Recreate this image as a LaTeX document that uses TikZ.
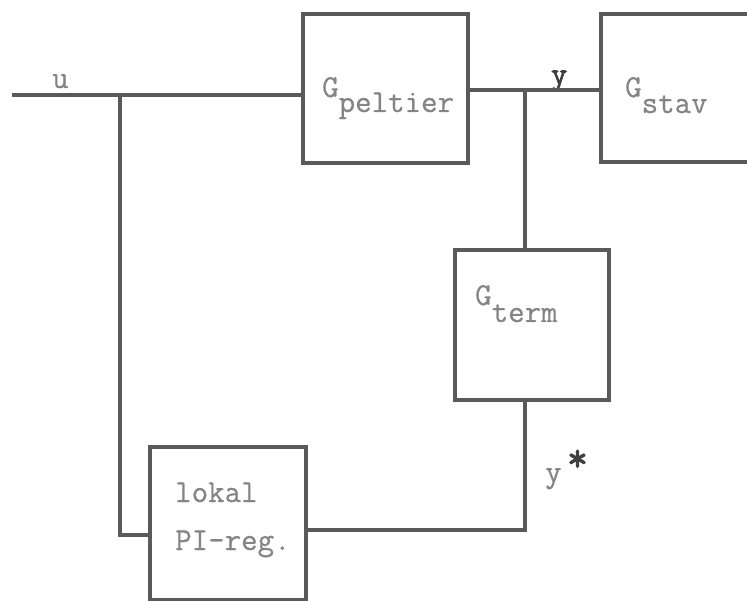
\documentclass[tikz,border=0pt]{standalone}
\usepackage{fontspec}
\newfontfamily\boldtt[FakeBold=2.5]{Latin Modern Mono}
\newfontfamily\lbltt[FakeBold=0.6]{Latin Modern Mono}
\begin{document}
\begin{tikzpicture}[x=1pt,y=-1pt,
  blk/.style={draw=linegray,line width=3.1pt,minimum width=#1,inner sep=0pt},
  wire/.style={draw=linegray,line width=3.1pt},
  lbl/.style={text=txtgray,font=\lbltt\fontsize{32}{36}\selectfont,anchor=base west,inner sep=0pt},
  dark/.style={text=linegray!70!black,font=\boldtt\fontsize{31}{36}\selectfont,anchor=base west,inner sep=0pt}]
\definecolor{linegray}{HTML}{5A5A5A}
\definecolor{txtgray}{HTML}{858585}
\useasboundingbox (0,0) rectangle (747,601);
% blocks
\node[blk=165pt,minimum height=149pt] (pel) at (385.5,88.5) {};
\node[blk=164pt,minimum height=148pt] (stav) at (683,88) {};
\node[blk=154pt,minimum height=150pt] (term) at (532,325) {};
\node[blk=156pt,minimum height=153pt] (pi) at (228,523.5) {};
% texts
\node[lbl] (tpel) at (322,97) {G\raisebox{-15pt}{peltier}};
\node[lbl] (tstav) at (625,97) {G\raisebox{-16pt}{stav}};
\node[lbl] (tterm) at (475,305) {G\raisebox{-17pt}{term}};
\node[lbl] (tlok) at (175,502) {lokal};
\node[lbl] (tpi) at (175,550) {PI-reg.};
\node[lbl] (tu) at (52,88) {u};
\node[dark] (ty) at (551,84) {y};
\node[lbl] (tys) at (545,482) {y};
\node[dark,font=\boldtt\fontsize{40}{44}\selectfont] (star) at (567,471) {*};
% connectors
\coordinate (in) at (12,95);
\coordinate (j1) at (120,95);
\coordinate (c1) at (120,535);
\coordinate (j2) at (525,90);
\coordinate (c2) at (525,530);
\draw[wire] (in) -- (in -| pel.west);
\draw[wire] (j1) -- (c1) -- (c1 -| pi.west);
\draw[wire] (pel.east |- j2) -- (j2 -| stav.west);
\draw[wire] (j2) -- (j2 |- term.north);
\draw[wire] (j2 |- term.south) -- (c2) -- (c2 -| pi.east);
\end{tikzpicture}
\end{document}
